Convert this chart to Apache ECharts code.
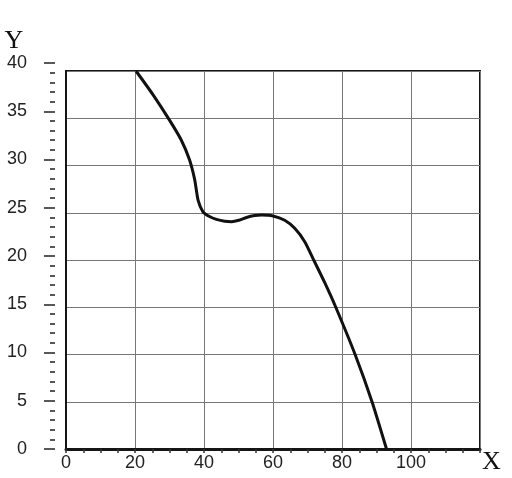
<!DOCTYPE html>
<html>
<head>
<meta charset="utf-8">
<script src="https://cdn.jsdelivr.net/npm/echarts@6/dist/echarts.min.js"></script>
<style>html,body{margin:0;padding:0;background:#fff}#c{width:512px;height:478px}</style>
</head>
<body>
<div id="c"></div>
<script>
// Curve values
var curveX = [20.3, 25.2, 30.0, 33.4, 35.8, 37.3, 38.3, 39.7, 41.6, 43.6, 46.0, 48.0, 50.1, 52.3, 54.7, 56.7, 60.0, 63.4, 66.3, 69.2, 71.8, 75.0, 78.2, 83.8, 88.7, 92.9];
var curveY = [40.0, 37.5, 34.8, 32.7, 30.6, 28.5, 26.3, 25.1, 24.6, 24.3, 24.1, 24.05, 24.2, 24.5, 24.7, 24.75, 24.66, 24.2, 23.35, 21.94, 20.0, 17.6, 15.0, 10.0, 5.0, 0.0];
var xTicks = [0, 20, 40, 60, 80, 100];
var yTicks = [0, 5, 10, 15, 20, 25, 30, 35, 40];

var data = curveX.map(function (x, i) { return [x, curveY[i]]; });
var labelFont = {fontFamily: 'Liberation Sans, Arial, sans-serif', fontSize: 18, color: '#222'};

var chart = echarts.init(document.getElementById('c'), null, {renderer: 'canvas'});
chart.setOption({
  animation: false,
  backgroundColor: '#fff',
  grid: [
    {left: 66, right: 32, top: 71, bottom: 29, show: true, borderColor: '#151515', borderWidth: 2, backgroundColor: 'transparent'},
    {left: 55, width: 10, top: 63, bottom: 29}
  ],
  xAxis: [{
    gridIndex: 0, type: 'value', min: 0, max: 120, interval: 20,
    name: 'X', nameLocation: 'end', nameGap: 2,
    nameTextStyle: {fontFamily: 'Liberation Serif, Times New Roman, serif', fontSize: 26, color: '#111', align: 'left', verticalAlign: 'top', padding: [0, 0, 0, 0]},
    axisLine: {show: true, onZero: false, lineStyle: {color: '#151515', width: 3}},
    axisTick: {show: true, inside: false, length: 4, lineStyle: {color: '#333', width: 1.5}},
    minorTick: {show: true, splitNumber: 4, length: 4, lineStyle: {color: '#333', width: 1.5}},
    splitLine: {show: true, lineStyle: {color: '#777', width: 1}},
    axisLabel: Object.assign({margin: 5, formatter: function (v) { return xTicks.indexOf(v) >= 0 ? String(v) : ''; }}, labelFont)
  }, {
    gridIndex: 1, type: 'value', show: false, min: 0, max: 1
  }],
  yAxis: [{
    gridIndex: 0, type: 'value', min: 0, max: 40, interval: 5,
    axisLine: {show: true, onZero: false, lineStyle: {color: '#151515', width: 2}},
    axisTick: {show: false},
    axisLabel: {show: false},
    splitLine: {show: true, lineStyle: {color: '#777', width: 1}}
  }, {
    gridIndex: 1, type: 'value', min: 0, max: 40, interval: 5,
    name: 'Y', nameLocation: 'end', nameGap: 8,
    nameTextStyle: {fontFamily: 'Liberation Serif, Times New Roman, serif', fontSize: 26, color: '#111', align: 'center', padding: [0, 0, 0, -82]},
    axisLine: {show: false},
    axisTick: {show: true, inside: false, length: 11, lineStyle: {color: '#222', width: 1.5}},
    minorTick: {show: true, splitNumber: 5, length: 5, lineStyle: {color: '#222', width: 1.5}},
    splitLine: {show: false},
    axisLabel: Object.assign({margin: 28, formatter: function (v) { return yTicks.indexOf(v) >= 0 ? String(v) : ''; }}, labelFont)
  }],
  series: [{
    type: 'line', xAxisIndex: 0, yAxisIndex: 0,
    data: data, smooth: 0.2, showSymbol: false,
    lineStyle: {color: '#111', width: 3}
  }]
});
</script>
</body>
</html>
